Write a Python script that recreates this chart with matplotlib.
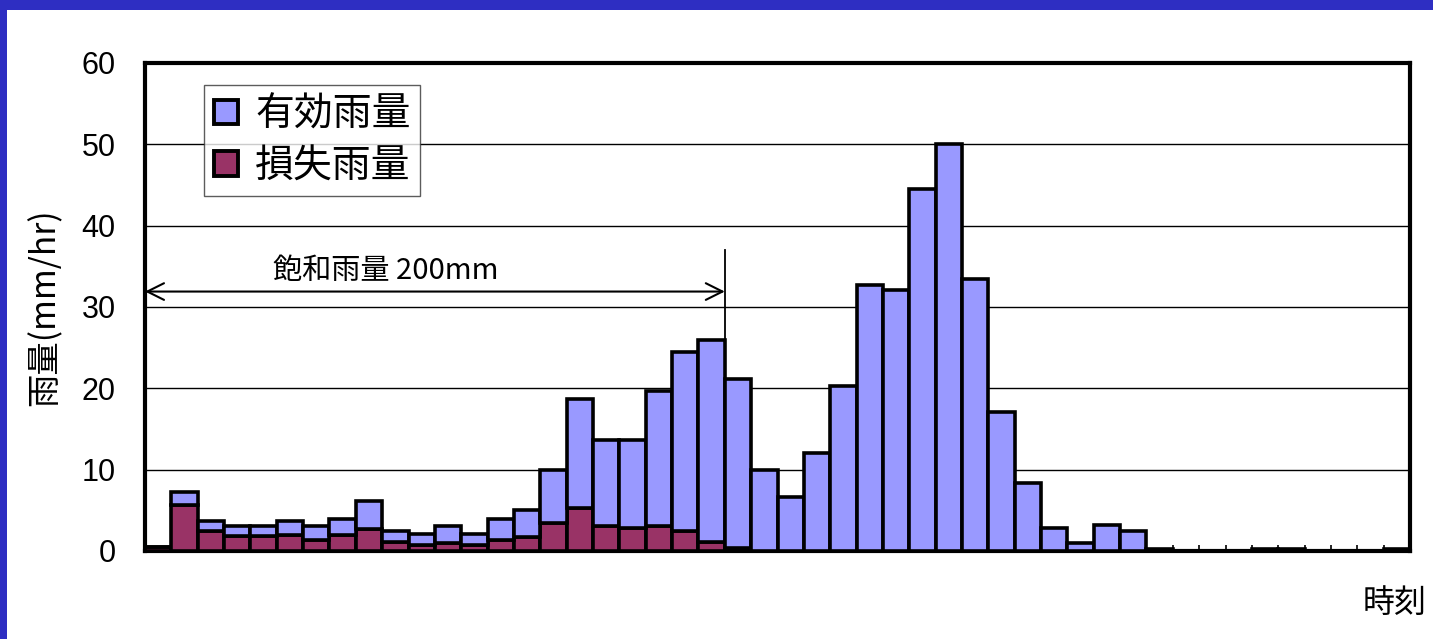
import matplotlib
matplotlib.use("Agg")
import matplotlib.pyplot as plt
from matplotlib.patches import Rectangle
import numpy as np

plt.rcParams['font.family'] = ['Noto Sans CJK JP', 'DejaVu Sans']

# total rainfall (mm/hr) per time step and its loss part
total = [0.5, 7.3, 3.7, 3.1, 3.1, 3.7, 3.1, 3.9, 6.2, 2.4, 2.1, 3.1, 2.1, 3.9, 5.1,
         9.9, 18.7, 13.6, 13.6, 19.7, 24.5, 25.9, 21.1, 10.0, 6.6, 12.1, 20.3, 32.7,
         32.1, 44.5, 50.0, 33.5, 17.1, 8.3, 2.8, 0.95, 3.2, 2.5, 0.3, 0, 0, 0,
         0.3, 0.3, 0, 0, 0, 0.3]
loss = [0.5, 5.7, 2.4, 1.8, 1.8, 2.0, 1.35, 2.0, 2.7, 1.15, 0.75, 0.95, 0.75, 1.35, 1.75,
        3.4, 5.25, 3.1, 2.8, 3.1, 2.4, 1.1, 0.4] + [0] * 25
effective = [t - l for t, l in zip(total, loss)]

labels = ['有効雨量', '損失雨量']
ylabel = '雨量(mm/hr)'
xlabel = '時刻'
yticks = [0, 10, 20, 30, 40, 50, 60]
sat_text = '飽和雨量 200mm'
sat_end = 21.5   # boundary where saturation is reached
sat_y = 31.9

c_eff = '#9999FF'
c_loss = '#993366'

fig = plt.figure(figsize=(14.33, 6.39), dpi=100)
fig.patch.set_facecolor('white')
# blue frame (top & left)
fig.patches.append(Rectangle((0, 1 - 10 / 639), 1, 10 / 639, transform=fig.transFigure,
                             facecolor='#2E2EC2', edgecolor='none', zorder=0))
fig.patches.append(Rectangle((0, 0), 7 / 1433, 1, transform=fig.transFigure,
                             facecolor='#2E2EC2', edgecolor='none', zorder=0))

ax = fig.add_axes([145 / 1433, 1 - 551 / 639, (1410 - 145) / 1433, (551 - 63) / 639])
x = np.arange(len(total))
ax.bar(x, loss, width=1.0, color=c_loss, edgecolor='black', linewidth=2.6,
       label=labels[1], zorder=3)
ax.bar(x, effective, width=1.0, bottom=loss, color=c_eff, edgecolor='black',
       linewidth=2.6, label=labels[0], zorder=3)

ax.set_xlim(-0.5, len(total) - 0.5)
ax.set_ylim(0, 60)
ax.set_yticks(yticks)
ax.set_yticklabels([str(v) for v in yticks], family=['Liberation Sans'], fontsize=22)
ax.tick_params(axis='y', length=0, pad=21)
ax.set_xticks(np.arange(len(total) + 1) - 0.5)
ax.set_xticklabels([])
ax.tick_params(axis='x', direction='in', length=4, width=1.2, color='black')
ax.yaxis.grid(True, color='black', linewidth=1.0, zorder=0)
ax.set_axisbelow(True)
for s in ax.spines.values():
    s.set_linewidth(3.0)
    s.set_color('black')

ax.set_ylabel(ylabel, fontsize=24, labelpad=14)
fig.text(1395 / 1433, 1 - 603 / 639, xlabel, fontsize=23, ha='center', va='center')

# saturation arrow
ax.annotate('', xy=(sat_end, sat_y), xytext=(-0.5, sat_y),
            arrowprops=dict(arrowstyle='<->', lw=1.5, color='black',
                            mutation_scale=30, shrinkA=0, shrinkB=0), zorder=5)
ax.plot([sat_end, sat_end], [16.3, 37.0], color='black', lw=1.3, zorder=5)
ax.text(8.65, sat_y + 0.7, sat_text, fontsize=21, ha='center', va='bottom', zorder=5)

h, l = ax.get_legend_handles_labels()
leg = ax.legend(h[::-1], l[::-1], loc='upper left', bbox_to_anchor=(0.047, 0.955),
                fontsize=28, frameon=True, fancybox=False, edgecolor='#333333',
                handlelength=0.6, handleheight=0.6, handletextpad=0.45,
                labelspacing=0.3, borderpad=0.25, borderaxespad=0)
leg.get_frame().set_linewidth(1.0)
for p in leg.get_patches():
    p.set_linewidth(2.8)

fig.savefig('out.png', dpi=100)
